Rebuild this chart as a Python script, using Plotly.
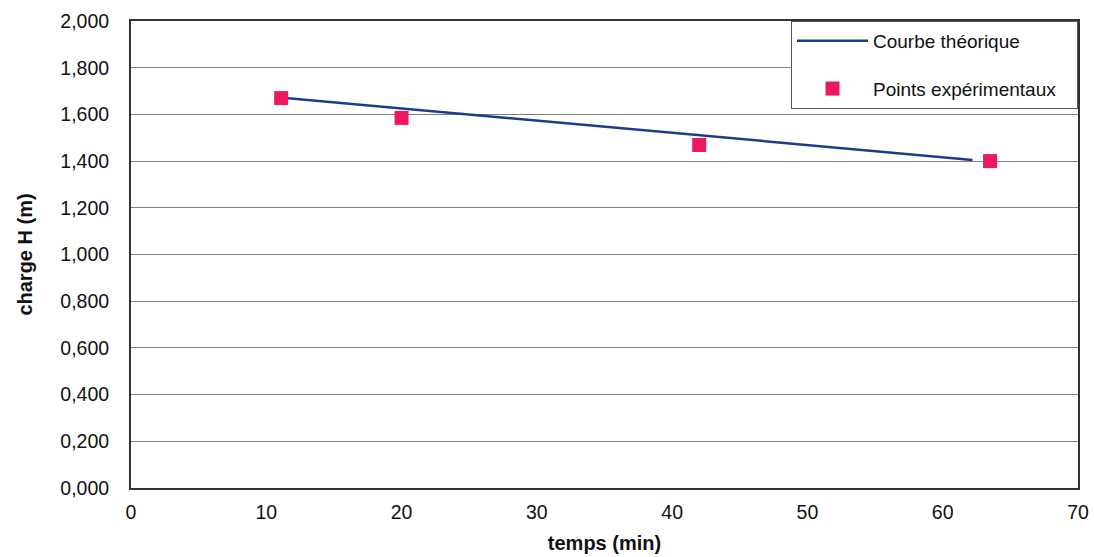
import plotly.graph_objects as go

# Data
theory_t = [10.6, 62.2]
theory_h = [1.675, 1.405]
exp_t = [11.1, 20.0, 42.0, 63.5]
exp_h = [1.670, 1.585, 1.469, 1.400]

y_tickvals = [0, 0.2, 0.4, 0.6, 0.8, 1.0, 1.2, 1.4, 1.6, 1.8, 2.0]
y_ticktext = ["0,000", "0,200", "0,400", "0,600", "0,800", "1,000",
              "1,200", "1,400", "1,600", "1,800", "2,000"]
x_tickvals = [0, 10, 20, 30, 40, 50, 60, 70]

pad = "\u00a0\u00a0\u00a0"

fig = go.Figure()
fig.add_trace(go.Scatter(
    x=theory_t, y=theory_h, mode="lines", name="Courbe théorique" + pad,
    line=dict(color="#1B3C8C", width=2.5), legendgroup="a"))
fig.add_trace(go.Scatter(
    x=exp_t, y=exp_h, mode="markers", name="Points expérimentaux" + pad,
    marker=dict(symbol="square", size=14, color="#EE1763"), legendgroup="b"))

fig.update_layout(
    width=1094, height=557,
    margin=dict(l=131, r=16, t=21, b=69),
    paper_bgcolor="white", plot_bgcolor="white",
    font=dict(family="Liberation Sans, Arial, sans-serif", size=19.5, color="#111"),
    legend=dict(x=1, y=1, xanchor="right", yanchor="top",
                bgcolor="white", bordercolor="#555", borderwidth=1,
                font=dict(size=19), traceorder="grouped", tracegroupgap=20,
                itemwidth=71),
    showlegend=True,
)
fig.update_xaxes(
    range=[0, 70], tickvals=x_tickvals, showgrid=False,
    showline=True, linecolor="#333", linewidth=2, mirror=True,
    ticks="", zeroline=False, ticklabelstandoff=6, automargin=False,
    title=dict(text="<b>temps (min)</b>", font=dict(size=20), standoff=14),
)
fig.update_yaxes(
    range=[0, 2.0], tickvals=y_tickvals, ticktext=y_ticktext,
    showgrid=True, gridcolor="#808080", gridwidth=1,
    showline=True, linecolor="#333", linewidth=2, mirror=True,
    ticks="", zeroline=False, ticklabelstandoff=16, automargin=False,
    title=dict(text="<b>charge H (m)</b>", font=dict(size=20), standoff=22),
)

fig.write_html("out.html")
